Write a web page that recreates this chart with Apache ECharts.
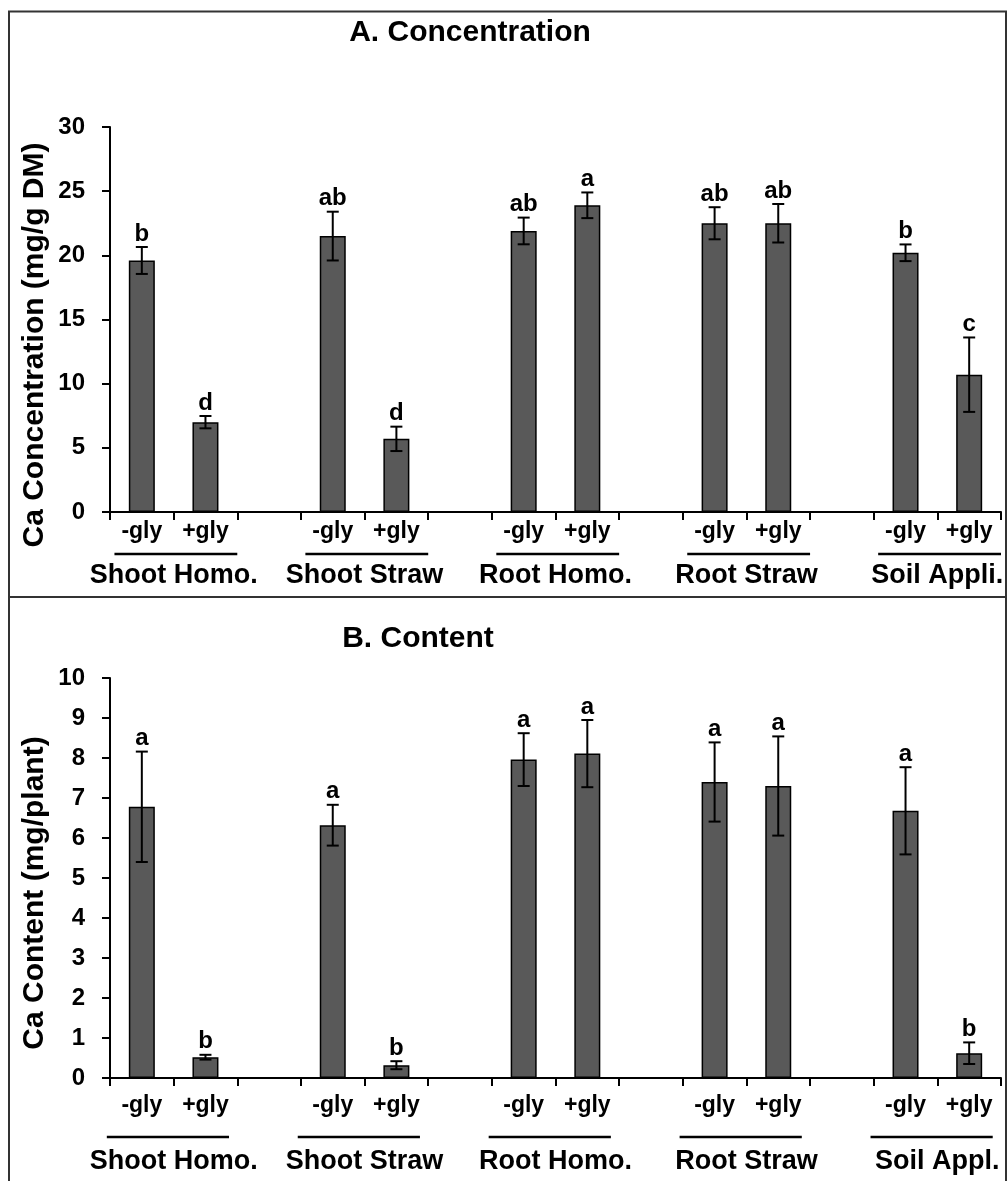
<!DOCTYPE html>
<html>
<head>
<meta charset="utf-8">
<script src="https://cdn.jsdelivr.net/npm/echarts@6/dist/echarts.min.js"></script>
<style>
  html, body { margin: 0; padding: 0; background: #ffffff; }
  #chart { width: 1008px; height: 1181px; }
</style>
</head>
<body>
<div id="chart"></div>
<script>
// Plant parts / application methods, each with a -gly and +gly treatment
const groupsA = ['Shoot Homo.', 'Shoot Straw', 'Root Homo.', 'Root Straw', 'Soil Appli.'];
const groupsB = ['Shoot Homo.', 'Shoot Straw', 'Root Homo.', 'Root Straw', 'Soil Appl.'];
const treatments = ['-gly', '+gly'];

// A. Ca concentration (mg/g DM), order: group by group, -gly then +gly
const concMean    = [19.6, 7.0, 21.5, 5.7, 21.9, 23.9, 22.5, 22.5, 20.2, 10.7];
const concErr     = [1.05, 0.48, 1.9, 0.95, 1.04, 1.0, 1.25, 1.5, 0.65, 2.9];
const concLetters = ['b', 'd', 'ab', 'd', 'ab', 'a', 'ab', 'ab', 'b', 'c'];

// B. Ca content (mg/plant)
const contMean    = [6.78, 0.52, 6.32, 0.32, 7.96, 8.11, 7.40, 7.30, 6.68, 0.62];
const contErr     = [1.38, 0.06, 0.51, 0.1, 0.66, 0.84, 0.99, 1.24, 1.09, 0.27];
const contLetters = ['a', 'b', 'a', 'b', 'a', 'a', 'a', 'a', 'a', 'b'];

// y-axis ranges
const concAxis = { min: 0, max: 30, interval: 5 };
const contAxis = { min: 0, max: 10, interval: 1 };

const FONT = "'Liberation Sans', Arial, Helvetica, sans-serif";

// Each group takes two slots followed by an empty spacer slot (none after the last group)
const slotCount = groupsA.length * 3 - 1;
const slotKeys = [];
const slotLabels = [];
for (let i = 0; i < slotCount; i++) {
  slotKeys.push('slot' + i);
  slotLabels.push(i % 3 === 2 ? '' : treatments[i % 3]);
}
const slotOf = (k) => Math.floor(k / 2) * 3 + (k % 2);

function barData(means) {
  const out = slotKeys.map(() => '-');
  means.forEach((m, k) => { out[slotOf(k)] = m; });
  return out;
}
function errData(means, errs) {
  return means.map((m, k) => [slotOf(k), m, errs[k]]);
}

function errorRenderer(letters) {
  return function (params, api) {
    const x = api.value(0), m = api.value(1), e = api.value(2);
    const top = api.coord([x, m + e]);
    const bot = api.coord([x, m - e]);
    const cap = 6;
    const ls = { stroke: '#000', lineWidth: 2 };
    return {
      type: 'group',
      children: [
        { type: 'line', shape: { x1: top[0], y1: top[1], x2: bot[0], y2: bot[1] }, style: ls },
        { type: 'line', shape: { x1: top[0] - cap, y1: top[1], x2: top[0] + cap, y2: top[1] }, style: ls },
        { type: 'line', shape: { x1: bot[0] - cap, y1: bot[1], x2: bot[0] + cap, y2: bot[1] }, style: ls },
        {
          type: 'text', x: top[0], y: top[1] - 13,
          style: {
            text: letters[params.dataIndex], fill: '#000',
            font: 'bold 24px ' + FONT, align: 'center', verticalAlign: 'middle'
          }
        }
      ]
    };
  };
}

function xAxisFor(gridIndex, labelMargin) {
  return {
    type: 'category', gridIndex: gridIndex, data: slotKeys,
    axisLine: { lineStyle: { color: '#000', width: 2 } },
    axisTick: { show: true, length: 8, lineStyle: { color: '#000', width: 2 } },
    axisLabel: {
      interval: 0, margin: labelMargin, color: '#000',
      fontFamily: FONT, fontWeight: 'bold', fontSize: 23,
      formatter: (v, i) => slotLabels[i]
    },
    splitLine: { show: false }
  };
}
function yAxisFor(gridIndex, range) {
  return {
    type: 'value', gridIndex: gridIndex,
    min: range.min, max: range.max, interval: range.interval,
    axisLine: { show: true, lineStyle: { color: '#000', width: 2 } },
    axisTick: { show: true, length: 8, lineStyle: { color: '#000', width: 2 } },
    axisLabel: { margin: 25, color: '#000', fontFamily: FONT, fontWeight: 'bold', fontSize: 24 },
    splitLine: { show: false }
  };
}
function barSeries(idx, means) {
  return {
    type: 'bar', xAxisIndex: idx, yAxisIndex: idx,
    data: barData(means), barWidth: 26,
    itemStyle: { color: '#595959', borderColor: '#000', borderWidth: 1.5 },
    silent: true, animation: false
  };
}
function errSeries(idx, means, errs, letters) {
  return {
    type: 'custom', xAxisIndex: idx, yAxisIndex: idx,
    data: errData(means, errs), encode: { x: 0, y: 1 },
    renderItem: errorRenderer(letters), clip: false, z: 5,
    silent: true, animation: false
  };
}

const chart = echarts.init(document.getElementById('chart'), null, { renderer: 'canvas' });
chart.setOption({
  animation: false,
  backgroundColor: '#ffffff',
  grid: [
    { left: 110, width: 891, top: 127, height: 385 },
    { left: 110, width: 891, top: 678, height: 400 }
  ],
  xAxis: [xAxisFor(0, 8), xAxisFor(1, 16)],
  yAxis: [yAxisFor(0, concAxis), yAxisFor(1, contAxis)],
  series: [
    barSeries(0, concMean), errSeries(0, concMean, concErr, concLetters),
    barSeries(1, contMean), errSeries(1, contMean, contErr, contLetters)
  ]
});

// Panel frames, titles, axis names and group captions under the treatment labels
function panelDecor(axisIdx, groups, opt) {
  const px = (i) => chart.convertToPixel({ xAxisIndex: axisIdx }, i);
  const step = px(1) - px(0);
  const out = [];
  groups.forEach((name, g) => {
    const mid = (px(g * 3) + px(g * 3 + 1)) / 2;
    out.push({
      type: 'line', silent: true,
      shape: { x1: mid + opt.lineFrom * step, y1: opt.lineY, x2: mid + opt.lineTo * step, y2: opt.lineY },
      style: { stroke: '#000', lineWidth: 2.5 }
    });
    out.push({
      type: 'text', silent: true, x: mid, y: opt.groupY,
      style: { text: name, fill: '#000', font: 'bold 27px ' + FONT, align: 'center', verticalAlign: 'middle' }
    });
  });
  out.push({
    type: 'text', silent: true, x: opt.titleX, y: opt.titleY,
    style: { text: opt.title, fill: '#000', font: 'bold 30px ' + FONT, align: 'center', verticalAlign: 'middle' }
  });
  out.push({
    type: 'text', silent: true, x: 35, y: opt.nameY, rotation: Math.PI / 2,
    style: { text: opt.name, fill: '#000', font: 'bold 30px ' + FONT, align: 'center', verticalAlign: 'middle' }
  });
  out.push({
    type: 'rect', silent: true,
    shape: opt.frame,
    style: { fill: null, stroke: '#333', lineWidth: 2 }
  });
  return out;
}

chart.setOption({
  graphic: [].concat(
    panelDecor(0, groupsA, {
      lineFrom: -0.93, lineTo: 1.0, lineY: 554, groupY: 576,
      title: 'A. Concentration', titleX: 470, titleY: 33,
      name: 'Ca Concentration (mg/g DM)', nameY: 345,
      frame: { x: 9, y: 11.5, width: 997, height: 585.5 }
    }),
    panelDecor(1, groupsB, {
      lineFrom: -1.05, lineTo: 0.87, lineY: 1137, groupY: 1162,
      title: 'B. Content', titleX: 418, titleY: 639,
      name: 'Ca Content (mg/plant)', nameY: 893,
      frame: { x: 9, y: 597, width: 997, height: 590 }
    })
  )
});
</script>
</body>
</html>
